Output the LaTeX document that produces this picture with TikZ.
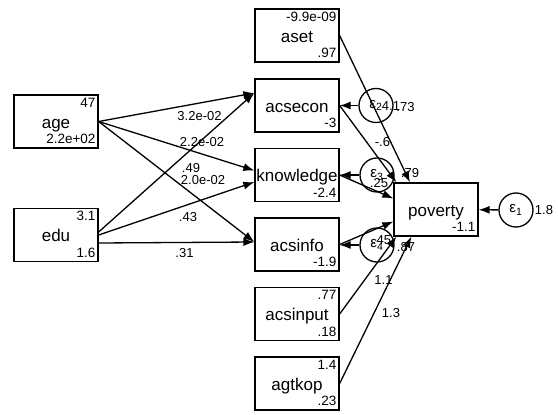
\documentclass[tikz,border=0pt]{standalone}
\usepackage{fontspec}
\setmainfont{Liberation Sans}
\usetikzlibrary{arrows.meta}
\tikzset{
 varbox/.style={draw, line width=1.3pt, minimum width=84pt, minimum height=53pt, inner sep=0pt},
 errc/.style={draw, circle, line width=1.3pt, minimum size=34pt, inner sep=0pt, font=\fontsize{15}{15}\selectfont},
 vname/.style={anchor=base, inner sep=0pt, font=\fontsize{17}{17}\selectfont},
 vnum/.style={anchor=base east, inner sep=0pt, font=\fontsize{13.5}{13.5}\selectfont},
 plab/.style={inner sep=0pt, font=\fontsize{13}{13}\selectfont},
 arr/.style={line width=1.3pt, -{Latex[length=11pt,width=8pt]}},
}
\newcommand{\obsbox}[6]{%
  \node[varbox] (#1) at (#2,#3) {};
  \node[vname] (#1-n) at ([yshift=-6.5pt]#1.center) {#4};
  \node[vnum] (#1-t) at ([xshift=-3pt,yshift=-13pt]#1.north east) {#5};
  \node[vnum] (#1-b) at ([xshift=-3pt,yshift=5pt]#1.south east) {#6};
}
\begin{document}
\begin{tikzpicture}[x=1pt,y=-1pt]
\useasboundingbox (0,0) rectangle (558,415);
% observed variables
\obsbox{age}{56}{121.5}{age}{47}{2.2e+02}
\obsbox{edu}{56}{235}{edu}{3.1}{1.6}
\obsbox{aset}{297}{35.5}{aset}{-9.9e-09}{.97}
\obsbox{acsecon}{297}{105.5}{acsecon}{}{-3}
\obsbox{knowledge}{297}{175}{knowledge}{}{-2.4}
\obsbox{acsinfo}{297}{244.5}{acsinfo}{}{-1.9}
\obsbox{acsinput}{297}{314}{acsinput}{.77}{.18}
\obsbox{agtkop}{297}{383.5}{agtkop}{1.4}{.23}
\obsbox{poverty}{436}{209.5}{poverty}{}{-1.1}
% error terms
\node[errc] (e1) at (516,210) {ε\textsubscript{1}};
\node[errc] (e2) at (376,105.5) {ε\textsubscript{2}};
\node[errc] (e3) at (377,175) {ε\textsubscript{3}};
\node[errc] (e4) at (377,245) {ε\textsubscript{4}};
% paths from age and edu
\draw[arr] (age.east) -- ([yshift=12.5pt]acsecon.west);
\draw[arr] (age.east) -- ([yshift=4.5pt]knowledge.west);
\draw[arr] (age.east) -- ([yshift=2.5pt]acsinfo.west);
\draw[arr] ([yshift=3pt]edu.east) -- ([yshift=12.5pt]acsecon.west);
\draw[arr] (edu.east) -- ([yshift=-7pt]knowledge.west);
\draw[arr] ([yshift=-8pt]edu.east) -- ([yshift=2.5pt]acsinfo.west);
% paths to poverty
\draw[arr] (aset.east) -- ([xshift=-26pt]poverty.north);
\draw[arr] (acsecon.east) -- ([xshift=3pt]poverty.north west);
\draw[arr] (knowledge.east) -- ([yshift=11pt]poverty.west);
\draw[arr] (acsinfo.east) -- ([yshift=-12pt]poverty.west);
\draw[arr] (acsinput.east) -- ([xshift=3pt]poverty.south west);
\draw[arr] (agtkop.east) -- ([xshift=18pt]poverty.south west);
% error arrows
\draw[arr] (e1) -- (poverty);
\draw[arr] (e2) -- (acsecon);
\draw[arr] (e3.west) -- (e3.west -| knowledge.east);
\draw[arr] (e4.west) -- (e4.west -| acsinfo.east);
% path labels
\node[plab] (l1) at (199.5,116) {3.2e-02};
\node[plab] (l2) at (202,142) {2.2e-02};
\node[plab] (l3) at (191,168) {.49};
\node[plab] (l4) at (203,180.5) {2.0e-02};
\node[plab] (l5) at (188,217) {.43};
\node[plab] (l6) at (184.5,253.5) {.31};
\node[plab] (l7) at (391,106) {4.1};
\node[plab] (l8) at (405.5,107) {.73};
\node[plab] (l9) at (382.5,142.5) {-.6};
\node[plab] (l10) at (410,173) {.79};
\node[plab] (l11) at (379,183.5) {.25};
\node[plab] (l12) at (382,240) {.45};
\node[plab] (l13) at (406,247) {.87};
\node[plab] (l14) at (383.5,280) {1.1};
\node[plab] (l15) at (391,313) {1.3};
\node[plab] (l16) at (544,210) {1.8};
\end{tikzpicture}
\end{document}
